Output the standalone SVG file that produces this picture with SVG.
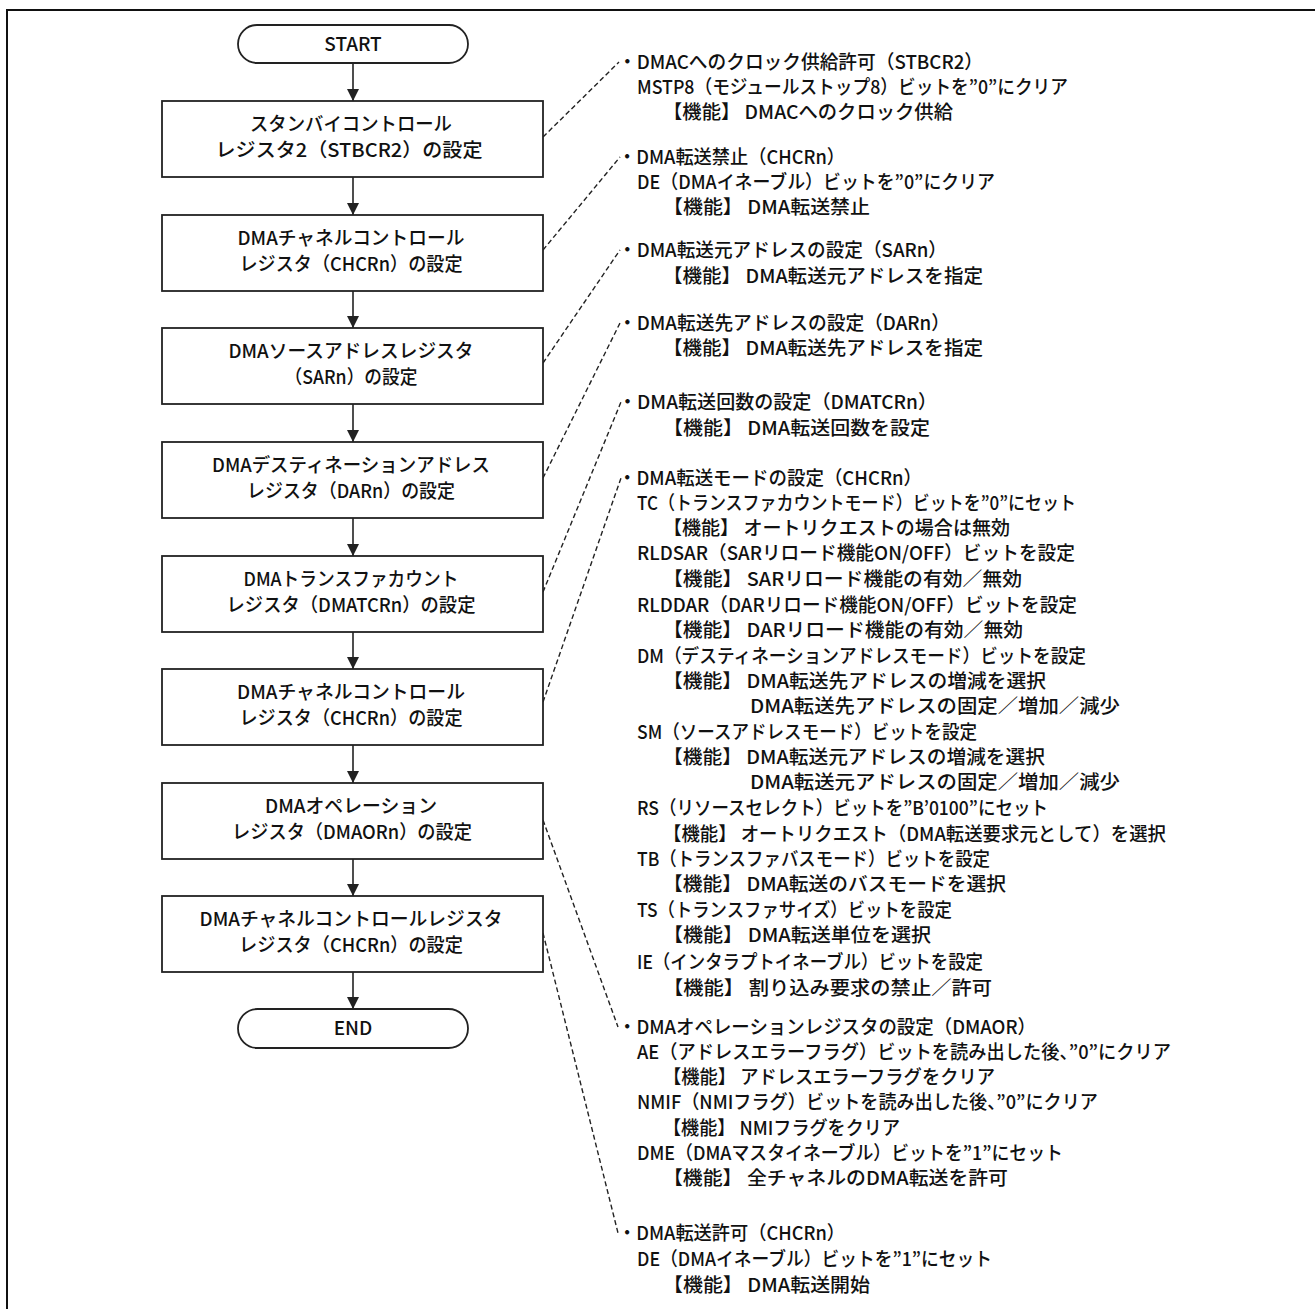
<svg xmlns="http://www.w3.org/2000/svg" width="1315" height="1309" viewBox="0 0 1315 1309">
<style>
  text { font-family: "Noto Sans CJK JP", "Noto Sans", sans-serif; fill: #111; font-weight: 500; }
  .bt { font-size: 19px; text-anchor: middle; }
  .rt { font-size: 19px; }
  .box { fill: #fff; stroke: #222; stroke-width: 1.8; }
  .flow { stroke: #222; stroke-width: 1.6; fill: none; marker-end: url(#ah); }
  .dash { stroke: #222; stroke-width: 1.4; fill: none; stroke-dasharray: 5 3; }
</style>
<defs>
  <marker id="ah" markerUnits="userSpaceOnUse" markerWidth="12" markerHeight="12" refX="12" refY="6" orient="auto">
    <path d="M0,0 L12,6 L0,12 z" fill="#222"/>
  </marker>
</defs>
<rect width="1315" height="1309" fill="#fff"/>
<path d="M7,1309 V10 H1315" fill="none" stroke="#111" stroke-width="2"/>

<g id="connectors">
  <line class="flow" x1="353" y1="63" x2="353" y2="101"/>
  <line class="flow" x1="353" y1="177" x2="353" y2="215"/>
  <line class="flow" x1="353" y1="291" x2="353" y2="328"/>
  <line class="flow" x1="353" y1="404" x2="353" y2="442"/>
  <line class="flow" x1="353" y1="518" x2="353" y2="556"/>
  <line class="flow" x1="353" y1="632" x2="353" y2="669"/>
  <line class="flow" x1="353" y1="745" x2="353" y2="783"/>
  <line class="flow" x1="353" y1="859" x2="353" y2="896"/>
  <line class="flow" x1="353" y1="972" x2="353" y2="1009"/>
  <line class="dash" x1="543" y1="137" x2="619" y2="62"/>
  <line class="dash" x1="543" y1="250" x2="620" y2="157"/>
  <line class="dash" x1="543" y1="363" x2="620" y2="250"/>
  <line class="dash" x1="543" y1="478" x2="620" y2="323"/>
  <line class="dash" x1="543" y1="592" x2="621" y2="402"/>
  <line class="dash" x1="543" y1="702" x2="621" y2="478"/>
  <line class="dash" x1="543" y1="820" x2="618" y2="1027"/>
  <line class="dash" x1="543" y1="933" x2="618" y2="1233"/>
</g>

<g id="start">
  <rect x="238" y="25" width="230" height="38" rx="19" class="box"/>
  <text class="bt" x="353" y="51">START</text>
</g>
<g id="n1">
  <rect x="162" y="101" width="381" height="76" class="box"/>
  <text class="bt" x="351" y="131" textLength="202" lengthAdjust="spacingAndGlyphs">スタンバイコントロール</text>
  <text class="bt" x="349" y="157" textLength="267" lengthAdjust="spacingAndGlyphs">レジスタ2（STBCR2）の設定</text>
</g>
<g id="n2">
  <rect x="162" y="215" width="381" height="76" class="box"/>
  <text class="bt" x="351" y="245" textLength="227" lengthAdjust="spacingAndGlyphs">DMAチャネルコントロール</text>
  <text class="bt" x="351" y="271" textLength="223" lengthAdjust="spacingAndGlyphs">レジスタ（CHCRn）の設定</text>
</g>
<g id="n3">
  <rect x="162" y="328" width="381" height="76" class="box"/>
  <text class="bt" x="351" y="358" textLength="245" lengthAdjust="spacingAndGlyphs">DMAソースアドレスレジスタ</text>
  <text class="bt" x="351" y="384" textLength="133" lengthAdjust="spacingAndGlyphs">（SARn）の設定</text>
</g>
<g id="n4">
  <rect x="162" y="442" width="381" height="76" class="box"/>
  <text class="bt" x="351" y="472" textLength="278" lengthAdjust="spacingAndGlyphs">DMAデスティネーションアドレス</text>
  <text class="bt" x="351" y="498" textLength="208" lengthAdjust="spacingAndGlyphs">レジスタ（DARn）の設定</text>
</g>
<g id="n5">
  <rect x="162" y="556" width="381" height="76" class="box"/>
  <text class="bt" x="351" y="586" textLength="215" lengthAdjust="spacingAndGlyphs">DMAトランスファカウント</text>
  <text class="bt" x="351" y="612" textLength="249" lengthAdjust="spacingAndGlyphs">レジスタ（DMATCRn）の設定</text>
</g>
<g id="n6">
  <rect x="162" y="669" width="381" height="76" class="box"/>
  <text class="bt" x="351" y="699" textLength="228" lengthAdjust="spacingAndGlyphs">DMAチャネルコントロール</text>
  <text class="bt" x="351" y="725" textLength="223" lengthAdjust="spacingAndGlyphs">レジスタ（CHCRn）の設定</text>
</g>
<g id="n7">
  <rect x="162" y="783" width="381" height="76" class="box"/>
  <text class="bt" x="351" y="813" textLength="172" lengthAdjust="spacingAndGlyphs">DMAオペレーション</text>
  <text class="bt" x="352" y="839" textLength="240" lengthAdjust="spacingAndGlyphs">レジスタ（DMAORn）の設定</text>
</g>
<g id="n8">
  <rect x="162" y="896" width="381" height="76" class="box"/>
  <text class="bt" x="351" y="926" textLength="303" lengthAdjust="spacingAndGlyphs">DMAチャネルコントロールレジスタ</text>
  <text class="bt" x="351" y="952" textLength="224" lengthAdjust="spacingAndGlyphs">レジスタ（CHCRn）の設定</text>
</g>
<g id="end">
  <rect x="238" y="1009" width="230" height="39" rx="19.5" class="box"/>
  <text class="bt" x="353" y="1035">END</text>
</g>

<g id="notes">
  <text class="rt" x="618" y="69" textLength="365" lengthAdjust="spacingAndGlyphs">・DMACへのクロック供給許可（STBCR2）</text>
  <text class="rt" x="637" y="94" textLength="431" lengthAdjust="spacingAndGlyphs">MSTP8（モジュールストップ8）ビットを”0”にクリア</text>
  <text class="rt" x="663" y="119" textLength="290" lengthAdjust="spacingAndGlyphs">【機能】 DMACへのクロック供給</text>

  <text class="rt" x="618" y="164" textLength="227" lengthAdjust="spacingAndGlyphs">・DMA転送禁止（CHCRn）</text>
  <text class="rt" x="637" y="189" textLength="358" lengthAdjust="spacingAndGlyphs">DE（DMAイネーブル）ビットを”0”にクリア</text>
  <text class="rt" x="663" y="214" textLength="207" lengthAdjust="spacingAndGlyphs">【機能】 DMA転送禁止</text>

  <text class="rt" x="618" y="257" textLength="329" lengthAdjust="spacingAndGlyphs">・DMA転送元アドレスの設定（SARn）</text>
  <text class="rt" x="663" y="283" textLength="320" lengthAdjust="spacingAndGlyphs">【機能】 DMA転送元アドレスを指定</text>

  <text class="rt" x="618" y="330" textLength="332" lengthAdjust="spacingAndGlyphs">・DMA転送先アドレスの設定（DARn）</text>
  <text class="rt" x="663" y="355" textLength="320" lengthAdjust="spacingAndGlyphs">【機能】 DMA転送先アドレスを指定</text>

  <text class="rt" x="618" y="409" textLength="319" lengthAdjust="spacingAndGlyphs">・DMA転送回数の設定（DMATCRn）</text>
  <text class="rt" x="663" y="435" textLength="267" lengthAdjust="spacingAndGlyphs">【機能】 DMA転送回数を設定</text>

  <text class="rt" x="618" y="485" textLength="304" lengthAdjust="spacingAndGlyphs">・DMA転送モードの設定（CHCRn）</text>
  <text class="rt" x="637" y="510" textLength="439" lengthAdjust="spacingAndGlyphs">TC（トランスファカウントモード）ビットを”0”にセット</text>
  <text class="rt" x="663" y="535" textLength="347" lengthAdjust="spacingAndGlyphs">【機能】 オートリクエストの場合は無効</text>
  <text class="rt" x="637" y="560" textLength="438" lengthAdjust="spacingAndGlyphs">RLDSAR（SARリロード機能ON/OFF）ビットを設定</text>
  <text class="rt" x="663" y="586" textLength="359" lengthAdjust="spacingAndGlyphs">【機能】 SARリロード機能の有効／無効</text>
  <text class="rt" x="637" y="612" textLength="440" lengthAdjust="spacingAndGlyphs">RLDDAR（DARリロード機能ON/OFF）ビットを設定</text>
  <text class="rt" x="663" y="637" textLength="360" lengthAdjust="spacingAndGlyphs">【機能】 DARリロード機能の有効／無効</text>
  <text class="rt" x="637" y="663" textLength="449" lengthAdjust="spacingAndGlyphs">DM（デスティネーションアドレスモード）ビットを設定</text>
  <text class="rt" x="663" y="688" textLength="383" lengthAdjust="spacingAndGlyphs">【機能】 DMA転送先アドレスの増減を選択</text>
  <text class="rt" x="750" y="713" textLength="370" lengthAdjust="spacingAndGlyphs">DMA転送先アドレスの固定／増加／減少</text>
  <text class="rt" x="637" y="739" textLength="340" lengthAdjust="spacingAndGlyphs">SM（ソースアドレスモード）ビットを設定</text>
  <text class="rt" x="663" y="764" textLength="382" lengthAdjust="spacingAndGlyphs">【機能】 DMA転送元アドレスの増減を選択</text>
  <text class="rt" x="750" y="789" textLength="370" lengthAdjust="spacingAndGlyphs">DMA転送元アドレスの固定／増加／減少</text>
  <text class="rt" x="637" y="815" textLength="411" lengthAdjust="spacingAndGlyphs">RS（リソースセレクト）ビットを”B’0100”にセット</text>
  <text class="rt" x="663" y="841" textLength="503" lengthAdjust="spacingAndGlyphs">【機能】 オートリクエスト（DMA転送要求元として）を選択</text>
  <text class="rt" x="637" y="866" textLength="353" lengthAdjust="spacingAndGlyphs">TB（トランスファバスモード）ビットを設定</text>
  <text class="rt" x="663" y="891" textLength="343" lengthAdjust="spacingAndGlyphs">【機能】 DMA転送のバスモードを選択</text>
  <text class="rt" x="637" y="917" textLength="315" lengthAdjust="spacingAndGlyphs">TS（トランスファサイズ）ビットを設定</text>
  <text class="rt" x="663" y="942" textLength="268" lengthAdjust="spacingAndGlyphs">【機能】 DMA転送単位を選択</text>
  <text class="rt" x="637" y="969" textLength="346" lengthAdjust="spacingAndGlyphs">IE（インタラプトイネーブル）ビットを設定</text>
  <text class="rt" x="663" y="995" textLength="329" lengthAdjust="spacingAndGlyphs">【機能】 割り込み要求の禁止／許可</text>

  <text class="rt" x="618" y="1034" textLength="418" lengthAdjust="spacingAndGlyphs">・DMAオペレーションレジスタの設定（DMAOR）</text>
  <text class="rt" x="637" y="1059" textLength="534" lengthAdjust="spacingAndGlyphs">AE（アドレスエラーフラグ）ビットを読み出した後、”0”にクリア</text>
  <text class="rt" x="663" y="1084" textLength="332" lengthAdjust="spacingAndGlyphs">【機能】 アドレスエラーフラグをクリア</text>
  <text class="rt" x="637" y="1109" textLength="461" lengthAdjust="spacingAndGlyphs">NMIF（NMIフラグ）ビットを読み出した後、”0”にクリア</text>
  <text class="rt" x="663" y="1135" textLength="237" lengthAdjust="spacingAndGlyphs">【機能】 NMIフラグをクリア</text>
  <text class="rt" x="637" y="1160" textLength="426" lengthAdjust="spacingAndGlyphs">DME（DMAマスタイネーブル）ビットを”1”にセット</text>
  <text class="rt" x="663" y="1185" textLength="345" lengthAdjust="spacingAndGlyphs">【機能】 全チャネルのDMA転送を許可</text>

  <text class="rt" x="618" y="1240" textLength="227" lengthAdjust="spacingAndGlyphs">・DMA転送許可（CHCRn）</text>
  <text class="rt" x="637" y="1266" textLength="355" lengthAdjust="spacingAndGlyphs">DE（DMAイネーブル）ビットを”1”にセット</text>
  <text class="rt" x="663" y="1292" textLength="207" lengthAdjust="spacingAndGlyphs">【機能】 DMA転送開始</text>
</g>
</svg>
